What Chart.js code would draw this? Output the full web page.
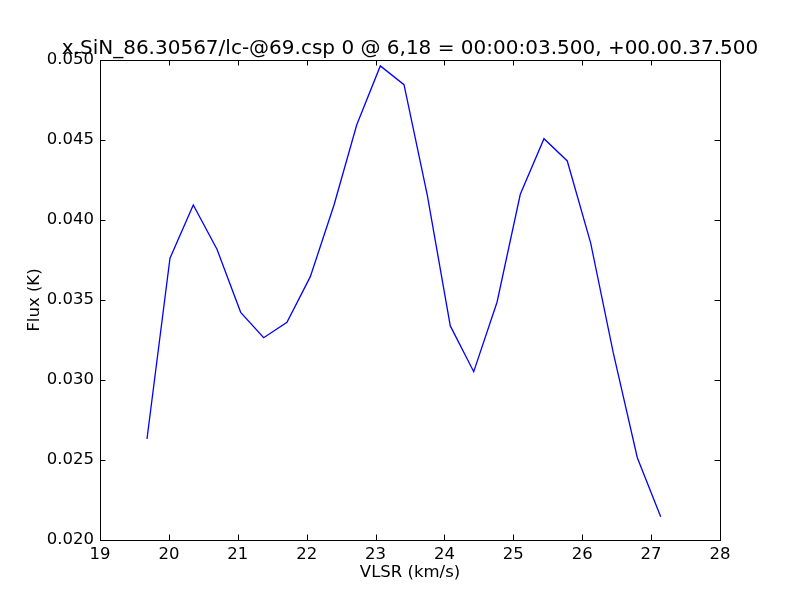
<!DOCTYPE html>
<html>
<head>
<meta charset="utf-8">
<script src="https://cdn.jsdelivr.net/npm/chart.js@4/dist/chart.umd.min.js"></script>
<style>
  html, body { margin: 0; padding: 0; background: #fff; }
  #wrap { width: 800px; height: 600px; }
</style>
</head>
<body>
<div id="wrap"><canvas id="myChart"></canvas></div>
<script>
// values
const vlsr = [19.682, 20.016, 20.354, 20.698, 21.042, 21.376, 21.714, 22.053,
  22.397, 22.726, 23.069, 23.413, 23.751, 24.085, 24.425, 24.763, 25.101,
  25.445, 25.783, 26.123, 26.451, 26.800, 27.139];
const flux = [0.02631, 0.03761, 0.04094, 0.03817, 0.03423, 0.03264, 0.03361,
  0.03646, 0.04094, 0.04594, 0.04963, 0.04846, 0.04156, 0.03338, 0.03052,
  0.03486, 0.04161, 0.04508, 0.04369, 0.03856, 0.03169, 0.02514, 0.02146];
const xTicks = [19, 20, 21, 22, 23, 24, 25, 26, 27, 28];
const yTicks = [0.020, 0.025, 0.030, 0.035, 0.040, 0.045, 0.050];
const titleText = 'x.SiN_86.30567/lc-@69.csp 0 @ 6,18 = 00:00:03.500, +00.00.37.500';

const fontFamily = "'DejaVu Sans', sans-serif";

// matplotlib style frame with inward ticks on all four sides, title over the plot area
const framePlugin = {
  id: 'frame',
  afterDraw(chart) {
    const ctx = chart.ctx;
    const a = chart.chartArea;
    const xs = chart.scales.x;
    const ys = chart.scales.y;
    const len = 5.5;
    ctx.save();
    ctx.strokeStyle = '#000';
    ctx.lineWidth = 1;
    ctx.beginPath();
    xTicks.forEach((v) => {
      const px = Math.round(xs.getPixelForValue(v)) + 0.5;
      ctx.moveTo(px, a.bottom); ctx.lineTo(px, a.bottom - len);
      ctx.moveTo(px, a.top); ctx.lineTo(px, a.top + len);
    });
    yTicks.forEach((v) => {
      const py = Math.round(ys.getPixelForValue(v)) + 0.5;
      ctx.moveTo(a.left, py); ctx.lineTo(a.left + len, py);
      ctx.moveTo(a.right, py); ctx.lineTo(a.right - len, py);
    });
    ctx.stroke();
    ctx.strokeRect(Math.round(a.left) + 0.5, Math.round(a.top) + 0.5,
      Math.round(a.right - a.left), Math.round(a.bottom - a.top));

    ctx.fillStyle = '#000';
    ctx.font = '20px ' + fontFamily;
    ctx.textAlign = 'center';
    ctx.textBaseline = 'alphabetic';
    ctx.fillText(titleText, (a.left + a.right) / 2, a.top - 6);
    ctx.restore();
  }
};

const data = {
  datasets: [{
    label: 'Flux',
    data: vlsr.map((v, i) => ({ x: v, y: flux[i] })),
    showLine: true,
    borderColor: '#0000ff',
    borderWidth: 1.3,
    pointRadius: 0,
    tension: 0,
    fill: false
  }]
};

const config = {
  type: 'scatter',
  data: data,
  options: {
    responsive: true,
    maintainAspectRatio: false,
    animation: false,
    layout: { padding: { left: 0, right: 80, top: 60, bottom: 0 } },
    plugins: {
      legend: { display: false },
      tooltip: { enabled: false },
      title: { display: false }
    },
    scales: {
      x: {
        type: 'linear',
        position: 'bottom',
        min: 19,
        max: 28,
        afterBuildTicks: (scale) => { scale.ticks = xTicks.map((v) => ({ value: v })); },
        afterFit: (scale) => { scale.height = 60; },
        grid: { display: false, drawTicks: false },
        border: { display: false },
        ticks: {
          color: '#000',
          padding: 5,
          maxRotation: 0,
          font: { family: fontFamily, size: 16.5 },
          callback: (v) => String(v)
        },
        title: {
          display: true,
          text: 'VLSR (km/s)',
          color: '#000',
          font: { family: fontFamily, size: 16.5, lineHeight: 1.2 },
          padding: { top: 0, bottom: 17 }
        }
      },
      y: {
        type: 'linear',
        min: 0.020,
        max: 0.050,
        afterBuildTicks: (scale) => { scale.ticks = yTicks.map((v) => ({ value: v })); },
        afterFit: (scale) => { scale.width = 100; },
        grid: { display: false, drawTicks: false },
        border: { display: false },
        ticks: {
          color: '#000',
          padding: 6,
          font: { family: fontFamily, size: 16.5 },
          callback: (v) => v.toFixed(3)
        },
        title: {
          display: true,
          text: 'Flux (K)',
          color: '#000',
          font: { family: fontFamily, size: 16.5, lineHeight: 1.2 },
          padding: { top: 25, bottom: 0 }
        }
      }
    }
  },
  plugins: [framePlugin]
};

const myChart = new Chart(document.getElementById('myChart'), config);
</script>
</body>
</html>
